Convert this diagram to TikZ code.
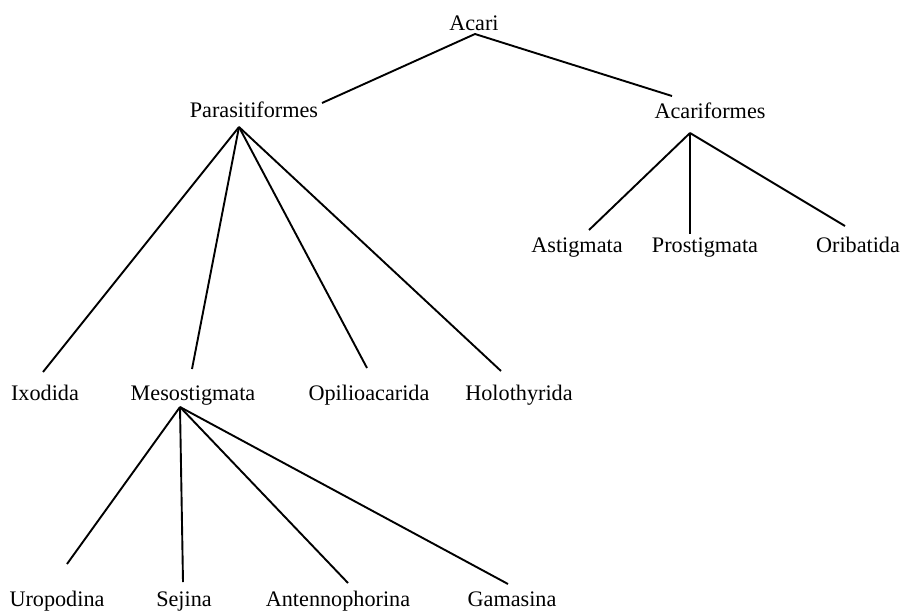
\documentclass[tikz,border=0pt]{standalone}
\usepackage{fontspec}
\setmainfont{Liberation Serif}
\begin{document}
\begin{tikzpicture}[x=0.5pt,y=-0.5pt,
  taxon/.style={anchor=base,inner sep=0pt,font=\fontsize{11.1}{13}\selectfont},
  branch/.style={line width=0.95pt,black}]
\useasboundingbox (0,0) rectangle (904,611);
% taxa
\node[taxon] (acari) at (474,30) {Acari};
\node[taxon] (para) at (254,117) {Parasitiformes};
\node[taxon] (acarif) at (710,118) {Acariformes};
\node[taxon] (astig) at (577,252) {Astigmata};
\node[taxon] (prost) at (705,252) {Prostigmata};
\node[taxon] (orib) at (858,252) {Oribatida};
\node[taxon] (ixo) at (45,400) {Ixodida};
\node[taxon] (meso) at (193,400) {Mesostigmata};
\node[taxon] (opil) at (369,400) {Opilioacarida};
\node[taxon] (holo) at (519,400) {Holothyrida};
\node[taxon] (urop) at (57,606) {Uropodina};
\node[taxon] (sej) at (184,606) {Sejina};
\node[taxon] (ante) at (338,606) {Antennophorina};
\node[taxon] (gama) at (512,606) {Gamasina};
% connector end points
\coordinate (acari-b) at (475,34);
\coordinate (para-t) at (322,103);
\coordinate (acarif-t) at (672,96);
\coordinate (para-b) at (239,127);
\coordinate (ixo-t) at (43,372);
\coordinate (meso-t) at (192,369);
\coordinate (opil-t) at (367,368);
\coordinate (holo-t) at (501,371);
\coordinate (acarif-b) at (690,133);
\coordinate (astig-t) at (589,230);
\coordinate (prost-t) at (690,234);
\coordinate (orib-t) at (845,226);
\coordinate (meso-b) at (180,407);
\coordinate (urop-t) at (67,564);
\coordinate (sej-t) at (183,582);
\coordinate (ante-t) at (348,583);
\coordinate (gama-t) at (508,584);
% branches
\draw[branch] (para-t) -- (acari-b) -- (acarif-t);
\foreach \c in {ixo-t,meso-t,opil-t,holo-t} \draw[branch] (para-b) -- (\c);
\foreach \c in {astig-t,prost-t,orib-t} \draw[branch] (acarif-b) -- (\c);
\foreach \c in {urop-t,sej-t,ante-t,gama-t} \draw[branch] (meso-b) -- (\c);
\end{tikzpicture}
\end{document}
